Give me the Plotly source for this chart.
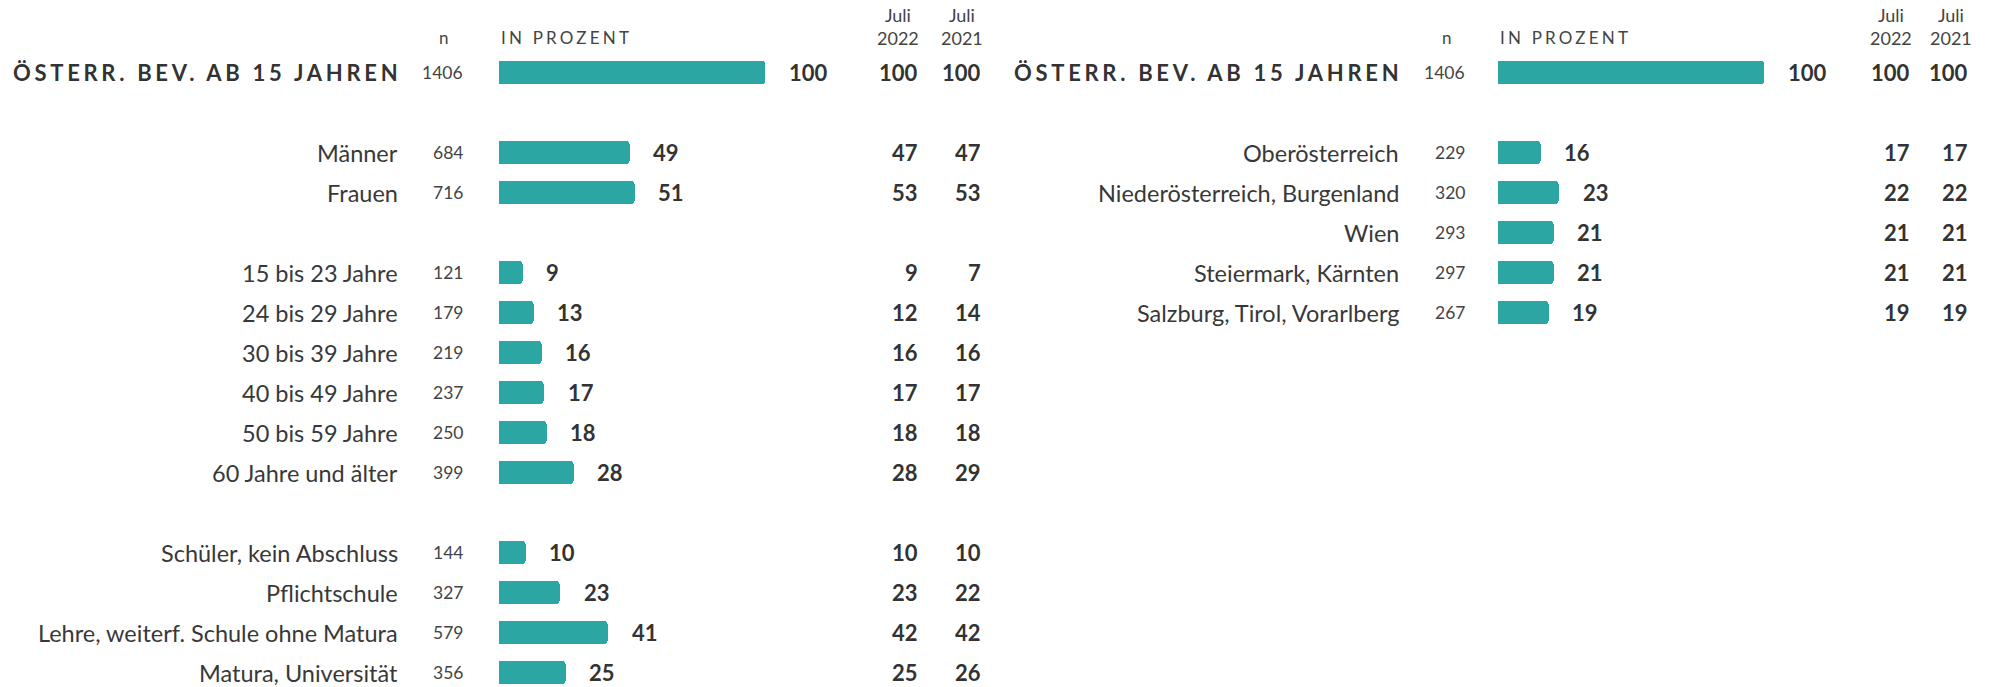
import plotly.graph_objects as go

# ---------------- data ----------------
header_label = "ÖSTERR. BEV. AB 15 JAHREN"
header_n = 1406
header_pct = 100
header_j22 = 100
header_j21 = 100

# left panel groups
left_groups_labels = [
    ["Männer", "Frauen"],
    ["15 bis 23 Jahre", "24 bis 29 Jahre", "30 bis 39 Jahre", "40 bis 49 Jahre",
     "50 bis 59 Jahre", "60 Jahre und älter"],
    ["Schüler, kein Abschluss", "Pflichtschule", "Lehre, weiterf. Schule ohne Matura",
     "Matura, Universität"],
]
left_groups_n = [[684, 716], [121, 179, 219, 237, 250, 399], [144, 327, 579, 356]]
left_groups_pct = [[49, 51], [9, 13, 16, 17, 18, 28], [10, 23, 41, 25]]
left_groups_j22 = [[47, 53], [9, 12, 16, 17, 18, 28], [10, 23, 42, 25]]
left_groups_j21 = [[47, 53], [7, 14, 16, 17, 18, 29], [10, 22, 42, 26]]

# right panel groups
right_groups_labels = [["Oberösterreich", "Niederösterreich, Burgenland", "Wien",
                        "Steiermark, Kärnten", "Salzburg, Tirol, Vorarlberg"]]
right_groups_n = [[229, 320, 293, 297, 267]]
right_groups_pct = [[16, 23, 21, 21, 19]]
right_groups_j22 = [[17, 22, 21, 21, 19]]
right_groups_j21 = [[17, 22, 21, 21, 19]]

col_headers = ["n", "IN PROZENT", "Juli<br>2022", "Juli<br>2021"]

# ---------------- layout helpers ----------------
W, H = 1995, 687
FONT = "Lato"
TXT = "#333333"
LAB = "#383838"
SUB = "#444444"
BAR = "#2ba6a2"


def flatten(groups_labels, groups_n, groups_pct, groups_j22, groups_j21):
    rows = [(0, header_label, header_n, header_pct, header_j22, header_j21, True)]
    r = 1
    for gl, gn, gp, g22, g21 in zip(groups_labels, groups_n, groups_pct, groups_j22, groups_j21):
        r += 1  # empty spacer row before each group
        for l, n, p, a, b in zip(gl, gn, gp, g22, g21):
            rows.append((r, l, n, p, a, b, False))
            r += 1
    return rows


left_rows = flatten(left_groups_labels, left_groups_n, left_groups_pct, left_groups_j22, left_groups_j21)
right_rows = flatten(right_groups_labels, right_groups_n, right_groups_pct, right_groups_j22, right_groups_j21)

panels = [
    dict(rows=left_rows, xa="x", dom=(498.5, 765.0), label_r=400, n_r=465, n_c=444,
         j22_r=920, j22_c=898, j21_r=983, j21_c=962),
    dict(rows=right_rows, xa="x2", dom=(1497.5, 1764.0), label_r=1401, n_r=1467, n_c=1447,
         j22_r=1912, j22_c=1891, j21_r=1970, j21_c=1951),
]

fig = go.Figure()
annotations = []


def px(v):
    return v / W


for p in panels:
    rows = p["rows"]
    ys = [r[0] for r in rows]
    vals = [r[3] for r in rows]
    fig.add_trace(go.Bar(
        x=vals, y=ys, orientation="h", xaxis=p["xa"], yaxis="y",
        width=0.575, marker=dict(color=BAR, cornerradius=3, line=dict(width=0)),
        hoverinfo="skip", showlegend=False,
    ))
    xref_bar = p["xa"]
    for (r, label, n, pct, j22, j21, is_head) in rows:
        if is_head:
            lab_text = '<span style="letter-spacing:3.7px">%s</span>' % label
            annotations.append(dict(x=px(p["label_r"] + 3), y=r, xref="paper", yref="y",
                                    text=lab_text, xanchor="right", yanchor="middle",
                                    showarrow=False,
                                    font=dict(family=FONT, size=22, color=TXT, weight="bold")))
        else:
            annotations.append(dict(x=px(p["label_r"]), y=r, xref="paper", yref="y",
                                    text=label, xanchor="right", yanchor="middle",
                                    showarrow=False,
                                    font=dict(family=FONT, size=23.5, color=LAB)))
        annotations.append(dict(x=px(p["n_r"]), y=r, xref="paper", yref="y",
                                text=str(n), xanchor="right", yanchor="middle",
                                showarrow=False,
                                font=dict(family=FONT, size=17.5, color=SUB)))
        annotations.append(dict(x=pct, y=r, xref=xref_bar, yref="y", xshift=22,
                                text=str(pct), xanchor="left", yanchor="middle",
                                showarrow=False,
                                font=dict(family=FONT, size=22, color=TXT, weight="bold")))
        annotations.append(dict(x=px(p["j22_r"]), y=r, xref="paper", yref="y",
                                text=str(j22), xanchor="right", yanchor="middle",
                                showarrow=False,
                                font=dict(family=FONT, size=22, color=TXT, weight="bold")))
        annotations.append(dict(x=px(p["j21_r"]), y=r, xref="paper", yref="y",
                                text=str(j21), xanchor="right", yanchor="middle",
                                showarrow=False,
                                font=dict(family=FONT, size=22, color=TXT, weight="bold")))
    # column headers
    annotations.append(dict(x=px(p["n_c"]), y=1 - 38 / H, xref="paper", yref="paper",
                            text=col_headers[0], xanchor="center", yanchor="middle",
                            showarrow=False, font=dict(family=FONT, size=17, color=SUB)))
    annotations.append(dict(x=0, y=1 - 38 / H, xref=xref_bar, yref="paper",
                            text='<span style="letter-spacing:3.2px">%s</span>' % col_headers[1],
                            xanchor="left", yanchor="middle",
                            showarrow=False, font=dict(family=FONT, size=17, color=SUB)))
    annotations.append(dict(x=px(p["j22_c"]), y=1 - 26 / H, xref="paper", yref="paper",
                            text=col_headers[2], xanchor="center", yanchor="middle",
                            showarrow=False, align="center",
                            font=dict(family=FONT, size=18, color=SUB)))
    annotations.append(dict(x=px(p["j21_c"]), y=1 - 26 / H, xref="paper", yref="paper",
                            text=col_headers[3], xanchor="center", yanchor="middle",
                            showarrow=False, align="center",
                            font=dict(family=FONT, size=18, color=SUB)))

# y: row i at pixel 72.5 + 40*i
y_top = -72.5 / 40.0
y_bot = y_top + H / 40.0

fig.update_layout(
    width=W, height=H,
    margin=dict(l=0, r=0, t=0, b=0),
    paper_bgcolor="white", plot_bgcolor="white",
    font=dict(family=FONT, color=TXT),
    bargap=0,
    xaxis=dict(domain=[px(panels[0]["dom"][0]), px(panels[0]["dom"][1])], range=[0, 100],
               visible=False, fixedrange=True),
    xaxis2=dict(domain=[px(panels[1]["dom"][0]), px(panels[1]["dom"][1])], range=[0, 100],
                visible=False, fixedrange=True, anchor="y"),
    yaxis=dict(domain=[0, 1], range=[y_bot, y_top], visible=False, fixedrange=True),
    annotations=annotations,
    showlegend=False,
)

fig.write_html("out.html", post_script="document.body.style.margin='0';",
               config={"displayModeBar": False})
